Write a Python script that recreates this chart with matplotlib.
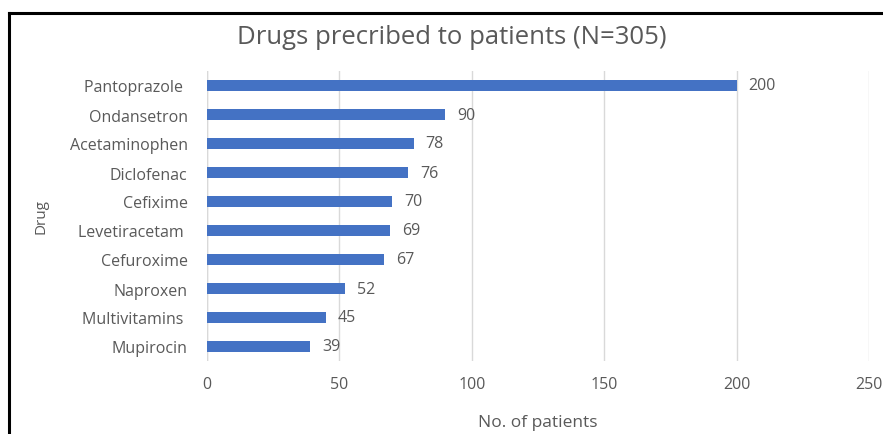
import matplotlib
matplotlib.use("Agg")
from matplotlib import pyplot as plt
from matplotlib.lines import Line2D

drugs = ["Pantoprazole ", "Ondansetron", "Acetaminophen", "Diclofenac", "Cefixime",
         "Levetiracetam ", "Cefuroxime", "Naproxen", "Multivitamins ", "Mupirocin"]
patients = [200, 90, 78, 76, 70, 69, 67, 52, 45, 39]
xticks = [0, 50, 100, 150, 200, 250]

text_col = "#595959"
bar_col = "#4472C4"
grid_col = "#d9d9d9"

plt.rcParams["font.family"] = ["Open Sans", "DejaVu Sans"]

fig = plt.figure(figsize=(8.83, 4.35), dpi=100)
ax = fig.add_axes([207 / 883, 1 - 362 / 435, 662 / 883, 290 / 435])

pos = list(range(len(drugs)))
ax.barh(pos, patients, height=0.35, color=bar_col, zorder=3)
for p, v in zip(pos, patients):
    ax.text(v + 4.5, p, str(v), va="center", ha="left", fontsize=11.5, color=text_col)

ax.set_xlim(0, 250)
ax.set_ylim(len(drugs) - 0.5, -0.5)
ax.set_xticks(xticks)
ax.set_yticks(pos)
ax.set_yticklabels(drugs)
ax.tick_params(axis="both", length=0, labelsize=11.5, labelcolor=text_col)
ax.tick_params(axis="x", pad=11)
ax.tick_params(axis="y", pad=14)
ax.grid(axis="x", color=grid_col, linewidth=1, zorder=0)
for s in ax.spines.values():
    s.set_visible(False)
ax.axvline(0, color=grid_col, linewidth=1, zorder=2)

ax.set_xlabel("No. of patients", fontsize=12.5, color=text_col, labelpad=16)
ax.set_ylabel("Drug", fontsize=11, color=text_col, labelpad=15)
fig.text(452 / 883, 1 - 38 / 435, "Drugs precribed to patients (N=305)",
         ha="center", va="center", fontsize=18.5, color=text_col)

# frame lines (top and left)
fig.add_artist(Line2D([9 / 883, 1], [1 - 14 / 435, 1 - 14 / 435], color="black", linewidth=2.2))
fig.add_artist(Line2D([9 / 883, 9 / 883], [0, 1 - 14 / 435], color="black", linewidth=2.2))

fig.savefig("out.png", dpi=100)
